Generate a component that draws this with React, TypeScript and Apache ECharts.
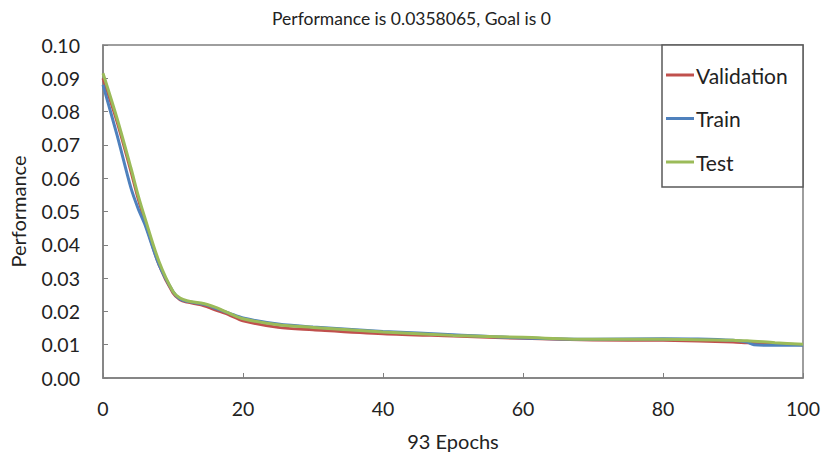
import React, { useEffect, useRef } from "react";
import * as echarts from "echarts";

const titleText = "Performance is 0.0358065, Goal is 0";
const xName = "93 Epochs";
const yName = "Performance";
const seriesNames = ["Validation", "Train", "Test"];
const seriesColors = ["#C0504D", "#4F81BD", "#9BBB59"];

const validationX = [0, 2, 4, 5, 6, 8, 10, 11, 12, 14, 15, 16, 18, 20, 25, 30, 40, 50, 60, 70, 80, 90, 92, 96, 100];
const validationY = [0.09, 0.077, 0.062, 0.054, 0.047, 0.034, 0.0255, 0.0235, 0.0228, 0.022, 0.0213, 0.0205, 0.019, 0.0172, 0.0152, 0.0145, 0.0133, 0.0126, 0.0119, 0.0114, 0.0113, 0.0108, 0.0106, 0.0103, 0.01];

const trainX = [0, 2, 4, 5, 6, 8, 10, 11, 12, 14, 15, 16, 18, 20, 25, 30, 40, 50, 60, 70, 80, 85, 90, 92, 93, 96, 100];
const trainY = [0.088, 0.073, 0.057, 0.051, 0.046, 0.034, 0.026, 0.0237, 0.023, 0.0223, 0.0218, 0.021, 0.0195, 0.018, 0.0162, 0.0153, 0.014, 0.013, 0.012, 0.0116, 0.0118, 0.0117, 0.0113, 0.0108, 0.01, 0.0098, 0.0098];

const testX = [0, 2, 4, 5, 6, 8, 10, 11, 12, 14, 15, 16, 18, 20, 25, 30, 40, 50, 60, 70, 80, 90, 92, 96, 100];
const testY = [0.0915, 0.078, 0.063, 0.055, 0.048, 0.035, 0.026, 0.024, 0.0232, 0.0225, 0.022, 0.0213, 0.0195, 0.0178, 0.016, 0.0152, 0.0138, 0.0128, 0.0122, 0.0116, 0.0116, 0.0113, 0.0112, 0.0106, 0.0101];

const FONT = "Lato, 'Noto Sans', sans-serif";

function pairs(xs: number[], ys: number[]) {
  return xs.map((x, i) => [x, ys[i]]);
}

export default function App() {
  const ref = useRef<HTMLDivElement>(null);
  useEffect(() => {
    if (!ref.current) return;
    const chart = echarts.init(ref.current, undefined, { renderer: "svg" });
    const data = [pairs(validationX, validationY), pairs(trainX, trainY), pairs(testX, testY)];
    chart.setOption({
      animation: false,
      backgroundColor: "#ffffff",
      textStyle: { fontFamily: FONT },
      title: {
        text: titleText,
        left: "center",
        top: 4,
        textStyle: { fontFamily: FONT, fontSize: 17.5, fontWeight: "normal", color: "#222" },
      },
      grid: {
        left: 103,
        right: 20,
        top: 45,
        bottom: 78,
        containLabel: false,
        outerBoundsMode: "none",
        show: true,
        borderColor: "#7f7f7f",
        borderWidth: 1.5,
        backgroundColor: "transparent",
      },
      xAxis: {
        type: "value",
        min: 0,
        max: 100,
        interval: 20,
        name: xName,
        nameLocation: "middle",
        nameGap: 53,
        nameTextStyle: { fontFamily: FONT, fontSize: 20, color: "#222" },
        axisLine: { show: true, lineStyle: { color: "#7f7f7f", width: 1.5 } },
        axisTick: { show: true, inside: true, length: 5, lineStyle: { color: "#7f7f7f" } },
        axisLabel: { fontFamily: FONT, fontSize: 19.5, color: "#222", margin: 20 },
        splitLine: { show: false },
      },
      yAxis: {
        type: "value",
        min: 0,
        max: 0.1,
        interval: 0.01,
        name: yName,
        nameLocation: "middle",
        nameGap: 75,
        nameTextStyle: { fontFamily: FONT, fontSize: 20, color: "#222" },
        axisLine: { show: true, lineStyle: { color: "#7f7f7f", width: 1.5 } },
        axisTick: { show: true, inside: true, length: 5, lineStyle: { color: "#7f7f7f" } },
        axisLabel: {
          fontFamily: FONT,
          fontSize: 19.5,
          color: "#222",
          margin: 23,
          formatter: (v: number) => v.toFixed(2),
        },
        splitLine: { show: false },
      },
      legend: {
        orient: "vertical",
        left: 666,
        top: 64,
        icon: "rect",
        itemWidth: 28,
        itemHeight: 3,
        itemGap: 21.5,
        padding: 0,
        textStyle: { fontFamily: FONT, fontSize: 21, color: "#222", lineHeight: 22, padding: [0, 0, 0, -3] },
        data: seriesNames,
      },
      graphic: [
        {
          type: "rect",
          shape: { x: 662, y: 45, width: 141, height: 142 },
          style: { fill: "#fff", stroke: "#5a5a5a", lineWidth: 1.5 },
          z: 4,
        },
      ],
      series: seriesNames.map((name, i) => ({
        name,
        type: "line",
        data: data[i],
        smooth: 0.3,
        showSymbol: false,
        symbol: "none",
        lineStyle: { color: seriesColors[i], width: 3 },
        itemStyle: { color: seriesColors[i] },
      })),
    });
    return () => chart.dispose();
  }, []);
  return <div ref={ref} style={{ width: 823, height: 456, position: "absolute", left: 0, top: 0 }} />;
}
